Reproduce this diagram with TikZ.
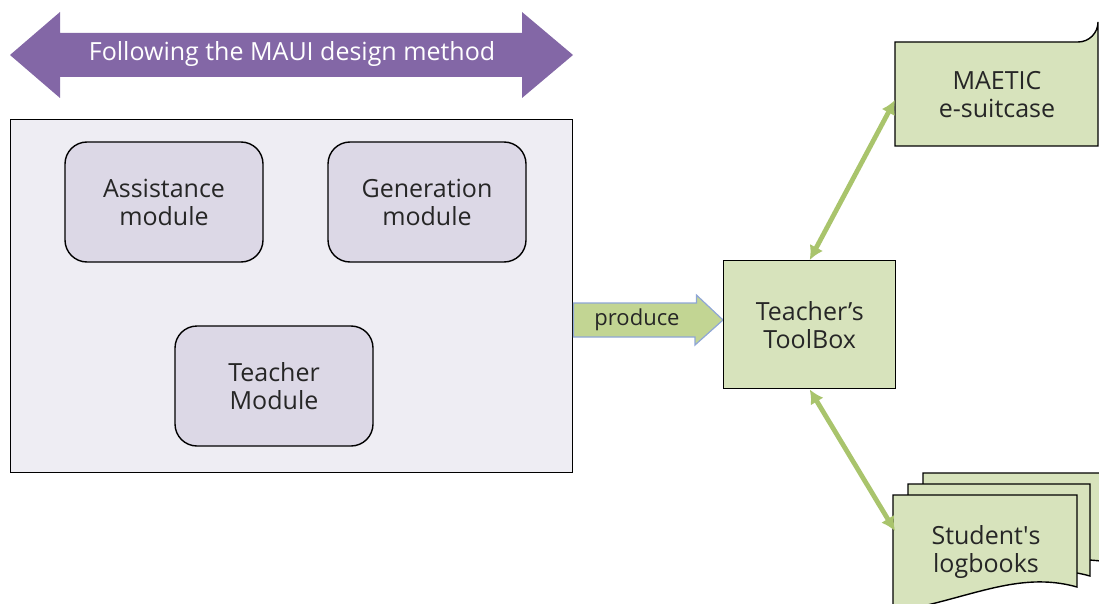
\documentclass[tikz,border=0pt]{standalone}
\usepackage{fontspec}
\setmainfont{Open Sans}
\usetikzlibrary{arrows.meta}
\definecolor{bandpurple}{HTML}{8367A6}
\definecolor{panelgrey}{HTML}{EEEDF3}
\definecolor{modlilac}{HTML}{DCD8E6}
\definecolor{leafgreen}{HTML}{D7E3BC}
\definecolor{prodgreen}{HTML}{C2D593}
\definecolor{prodedge}{HTML}{8FA6D6}
\definecolor{linkgreen}{HTML}{A9C46C}
\tikzset{
  label/.style={font=\fontsize{25}{28}\selectfont, align=center, text=black!85},
  module/.style={draw=black, line width=1.4pt, fill=modlilac, rounded corners=22pt,
    minimum width=198pt, minimum height=120pt, label},
  greenbox/.style={draw=black, line width=1.4pt, fill=leafgreen},
  link/.style={draw=linkgreen, line width=4.8pt,
    {Latex[length=14pt,width=15pt]}-{Latex[length=14pt,width=15pt]}},
}
\begin{document}
\begin{tikzpicture}[x=1pt,y=-1pt]
\useasboundingbox (0,0) rectangle (1099,604);

% design-method band
\fill[bandpurple] (10,55) -- (60,12) -- (60,33) -- (522,33) -- (522,12) -- (573,55)
  -- (522,98) -- (522,77) -- (60,77) -- (60,98) -- cycle;
\node[font=\fontsize{25}{28}\selectfont, text=white] (method) at (292,54)
  {Following the MAUI design method};

% system panel with its modules
\node[draw=black, line width=1.4pt, fill=panelgrey, minimum width=562pt,
  minimum height=353pt, anchor=north west, inner sep=0pt] (panel) at (10,119) {};
\node[module] (assist) at (164,202) {Assistance\\module};
\node[module] (gen) at (427,202) {Generation\\module};
\node[module] (teach) at (274,386) {Teacher\\Module};

% produce arrow
\coordinate (pstart) at (panel.east |- 0,320);
\fill[prodgreen, draw=prodedge, line width=1.2pt] (pstart) ++(0,-17) -- ++(123,0) -- ++(0,-8)
  -- (723,320) -- (695,345) -- (695,337) -- (pstart |- 0,337) -- cycle;
\node[font=\fontsize{22}{26}\selectfont, text=black!85] (produce) at (637,320) {produce};

% toolbox
\node[greenbox, minimum width=172pt, minimum height=128pt, label, anchor=north west]
  (tb) at (723,260) {Teacher’s\\ToolBox};

% e-suitcase (one rounded corner)
\draw[greenbox] (895,42) -- (1078,42) arc[start angle=90, end angle=0, radius=20]
  -- (1098,146) -- (895,146) -- cycle;
\node[label] (suit) at (997,95) {MAETIC\\e-suitcase};
\coordinate (suitw) at (895,100);

% stacked logbooks
\foreach \dx/\dy/\rw in {30/-22/1120, 15/-11/1090, 0/0/1077}{
  \draw[greenbox] (893+\dx,495+\dy) -- (\rw,495+\dy) -- (\rw,587+\dy)
    .. controls (\rw-60,570+\dy) and (\rw-110,600+\dy) .. (893+\dx,612+\dy) -- cycle;
}
\node[label] (logs) at (986,552) {Student\textquotesingle s\\logbooks};
\coordinate (logw) at (895,531);

% links to the toolbox
\draw[link] (tb.north) -- (suitw);
\draw[link] (tb.south) -- (logw);
\end{tikzpicture}
\end{document}
